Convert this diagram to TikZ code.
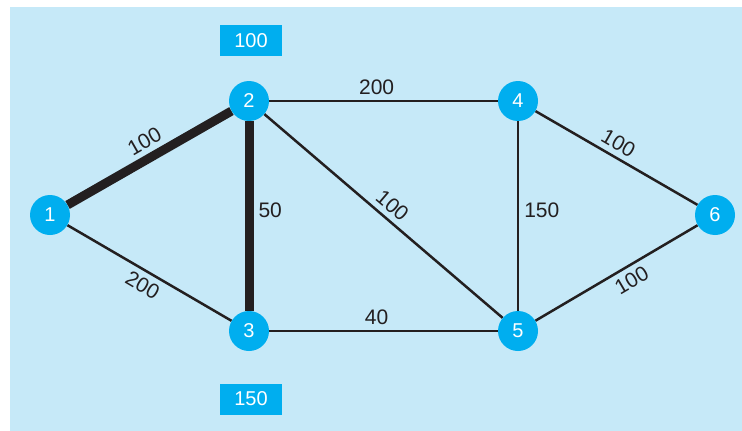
\documentclass[tikz,border=0pt]{standalone}
\usepackage{fontspec}
\setmainfont{Liberation Sans}
\usetikzlibrary{positioning}
\definecolor{netcyan}{HTML}{00AEEF}
\definecolor{netbg}{HTML}{C6E9F8}
\definecolor{netline}{HTML}{231F20}
\pgfdeclarelayer{bg}
\pgfdeclarelayer{edges}
\pgfsetlayers{bg,edges,main}

\begin{document}
\begin{tikzpicture}[
    x=1pt, y=-1pt,
    vertex/.style={circle, fill=netcyan, text=white, minimum size=40pt, inner sep=0pt, font=\fontsize{20}{24}\selectfont},
    costbox/.style={fill=netcyan, text=white, minimum width=62pt, minimum height=31pt, inner sep=0pt, font=\fontsize{20}{24}\selectfont},
    link/.style={line width=2.5pt, netline},
    route/.style={line width=9pt, netline},
    weight/.style={font=\fontsize{21}{25}\selectfont, text=netline, inner sep=5pt},
]

% Frame
\useasboundingbox (0,0) rectangle (742,431);
\begin{pgfonlayer}{bg}
\fill[netbg] (10,7) rectangle (742,431);
\end{pgfonlayer}

% Vertices
\node[vertex] (n1) at (50, 215) {1};
\node[vertex] (n2) at (249, 101) {2};
\node[vertex] (n3) at (249, 331) {3};
\node[vertex] (n4) at (518, 101) {4};
\node[vertex] (n5) at (518, 331) {5};
\node[vertex] (n6) at (715, 215) {6};

% Costs
\node[costbox] (c2) at (251, 40.5) {100};
\node[costbox] (c3) at (251, 399) {150};

% Edges
\begin{pgfonlayer}{edges}
\draw[route] (n1) -- (n2) node[weight, pos=0.52, sloped, above] {100};
\draw[route] (n2) -- (n3) node[weight, pos=0.47, right] {50};
\draw[link] (n1) -- (n3) node[weight, pos=0.5, sloped, below] {200};
\draw[link] (n2) -- (n4) node[weight, pos=0.47, above] {200};
\draw[link] (n2) -- (n5) node[weight, pos=0.5, sloped, above] {100};
\draw[link] (n3) -- (n5) node[weight, pos=0.47, above] {40};
\draw[link] (n4) -- (n5) node[weight, pos=0.47, right] {150};
\draw[link] (n4) -- (n6) node[weight, pos=0.47, sloped, above] {100};
\draw[link] (n5) -- (n6) node[weight, pos=0.55, sloped, below] {100};
\end{pgfonlayer}

\end{tikzpicture}
\end{document}
